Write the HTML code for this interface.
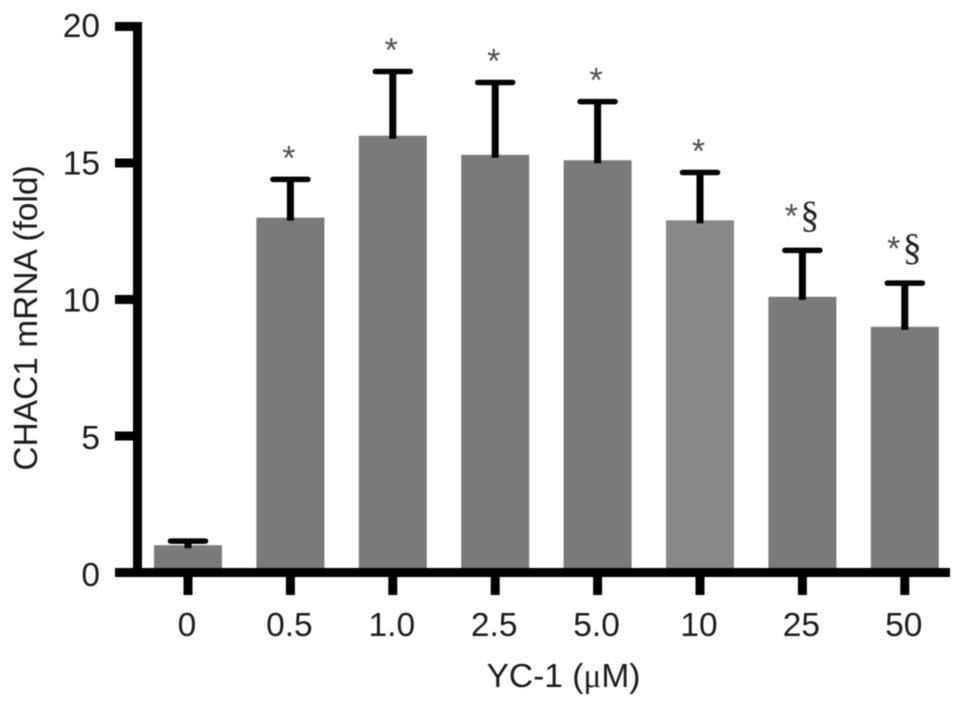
<!DOCTYPE html>
<html lang="en">
<head>
<meta charset="utf-8">
<title>CHAC1 mRNA fold by YC-1 concentration</title>
<style>
html,body{margin:0;padding:0;background:#fff;}
svg{display:block;filter:blur(0.5px);}
text{font-family:"Liberation Sans",sans-serif;fill:#1c1c1c;}
</style>
</head>
<body>
<svg id="chart" width="969" height="706" viewBox="0 0 969 706" xmlns="http://www.w3.org/2000/svg">
  <text transform="translate(37 318) rotate(-90)" text-anchor="middle" font-size="33.5">CHAC1 mRNA (fold)</text>
  <text x="563.5" y="687" text-anchor="middle" font-size="33.5">YC-1 (<tspan font-family="'Liberation Serif',serif">μ</tspan>M)</text>
</svg>
<script>
const categories = ['0', '0.5', '1.0', '2.5', '5.0', '10', '25', '50'];
const means = [1, 13, 16, 15.3, 15.1, 12.9, 10.1, 9];
const errorTops = [1.15, 14.4, 18.35, 17.95, 17.25, 14.65, 11.8, 10.6];
const annotations = ['', '*', '*', '*', '*', '*', '*§', '*§'];
const yTicks = [0, 5, 10, 15, 20];

const NS = 'http://www.w3.org/2000/svg';
const svg = document.getElementById('chart');
const yScale = v => 572.5 - v * 27.3;
const xScale = i => 188 + i * 102.4;

function add(tag, attrs, parent) {
  const el = document.createElementNS(NS, tag);
  for (const k in attrs) el.setAttribute(k, attrs[k]);
  (parent || svg).appendChild(el);
  return el;
}

means.forEach((m, i) => {
  const cx = xScale(i);
  const top = yScale(m);
  const errY = yScale(errorTops[i]);

  const bar = add('rect', {x: cx - 34, y: top, width: 68, height: 568 - top, fill: i === 5 ? '#888888' : '#7a7a7a'});
  
  

  const stem = add('line', {x1: cx, x2: cx, y1: top + 3, y2: errY, stroke: '#000', 'stroke-width': 7});
  
  

  const cap = add('line', {x1: cx - 17.5, x2: cx + 17.5, y1: errY, y2: errY, stroke: '#000', 'stroke-width': 5.5, 'stroke-linecap': 'round'});
  
  

  const note = annotations[i];
  if (note.includes('*')) {
    const double = note.includes('§');
    const star = add('text', {x: double ? cx - 11 : cx - 1.5, y: double ? errY - 23 : errY - 10, 'text-anchor': 'middle', 'font-size': 34, style: 'fill:#505050'});
    star.textContent = '*';
    
    
  }
  if (note.includes('§')) {
    const section = add('text', {x: cx + 7.5, y: errY - 23, 'text-anchor': 'middle', 'font-size': 38, style: 'font-family:"Liberation Serif",serif;fill:#222'});
    section.textContent = '§';
    
    
  }

  const tick = add('line', {x1: cx, x2: cx, y1: 572, y2: 595, stroke: '#000', 'stroke-width': 9});
  
  

  const label = add('text', {x: cx - 1, y: 636, 'text-anchor': 'middle', 'font-size': 33.5});
  label.textContent = categories[i];
  
  
});

const yAxis = add('line', {x1: 137.5, x2: 137.5, y1: yScale(20) - 4.5, y2: yScale(0), stroke: '#000', 'stroke-width': 9});



const xAxis = add('line', {x1: 115, x2: 950, y1: yScale(0), y2: yScale(0), stroke: '#000', 'stroke-width': 9});



yTicks.forEach(t => {
  const tick = add('line', {x1: 115, x2: 138, y1: yScale(t), y2: yScale(t), stroke: '#000', 'stroke-width': 9});
  
  

  const label = add('text', {x: 100, y: yScale(t) + 10.5 + (20 - t) * 0.15, 'text-anchor': 'end', 'font-size': 33.5});
  label.textContent = t;
  
  
});
</script>
</body>
</html>
